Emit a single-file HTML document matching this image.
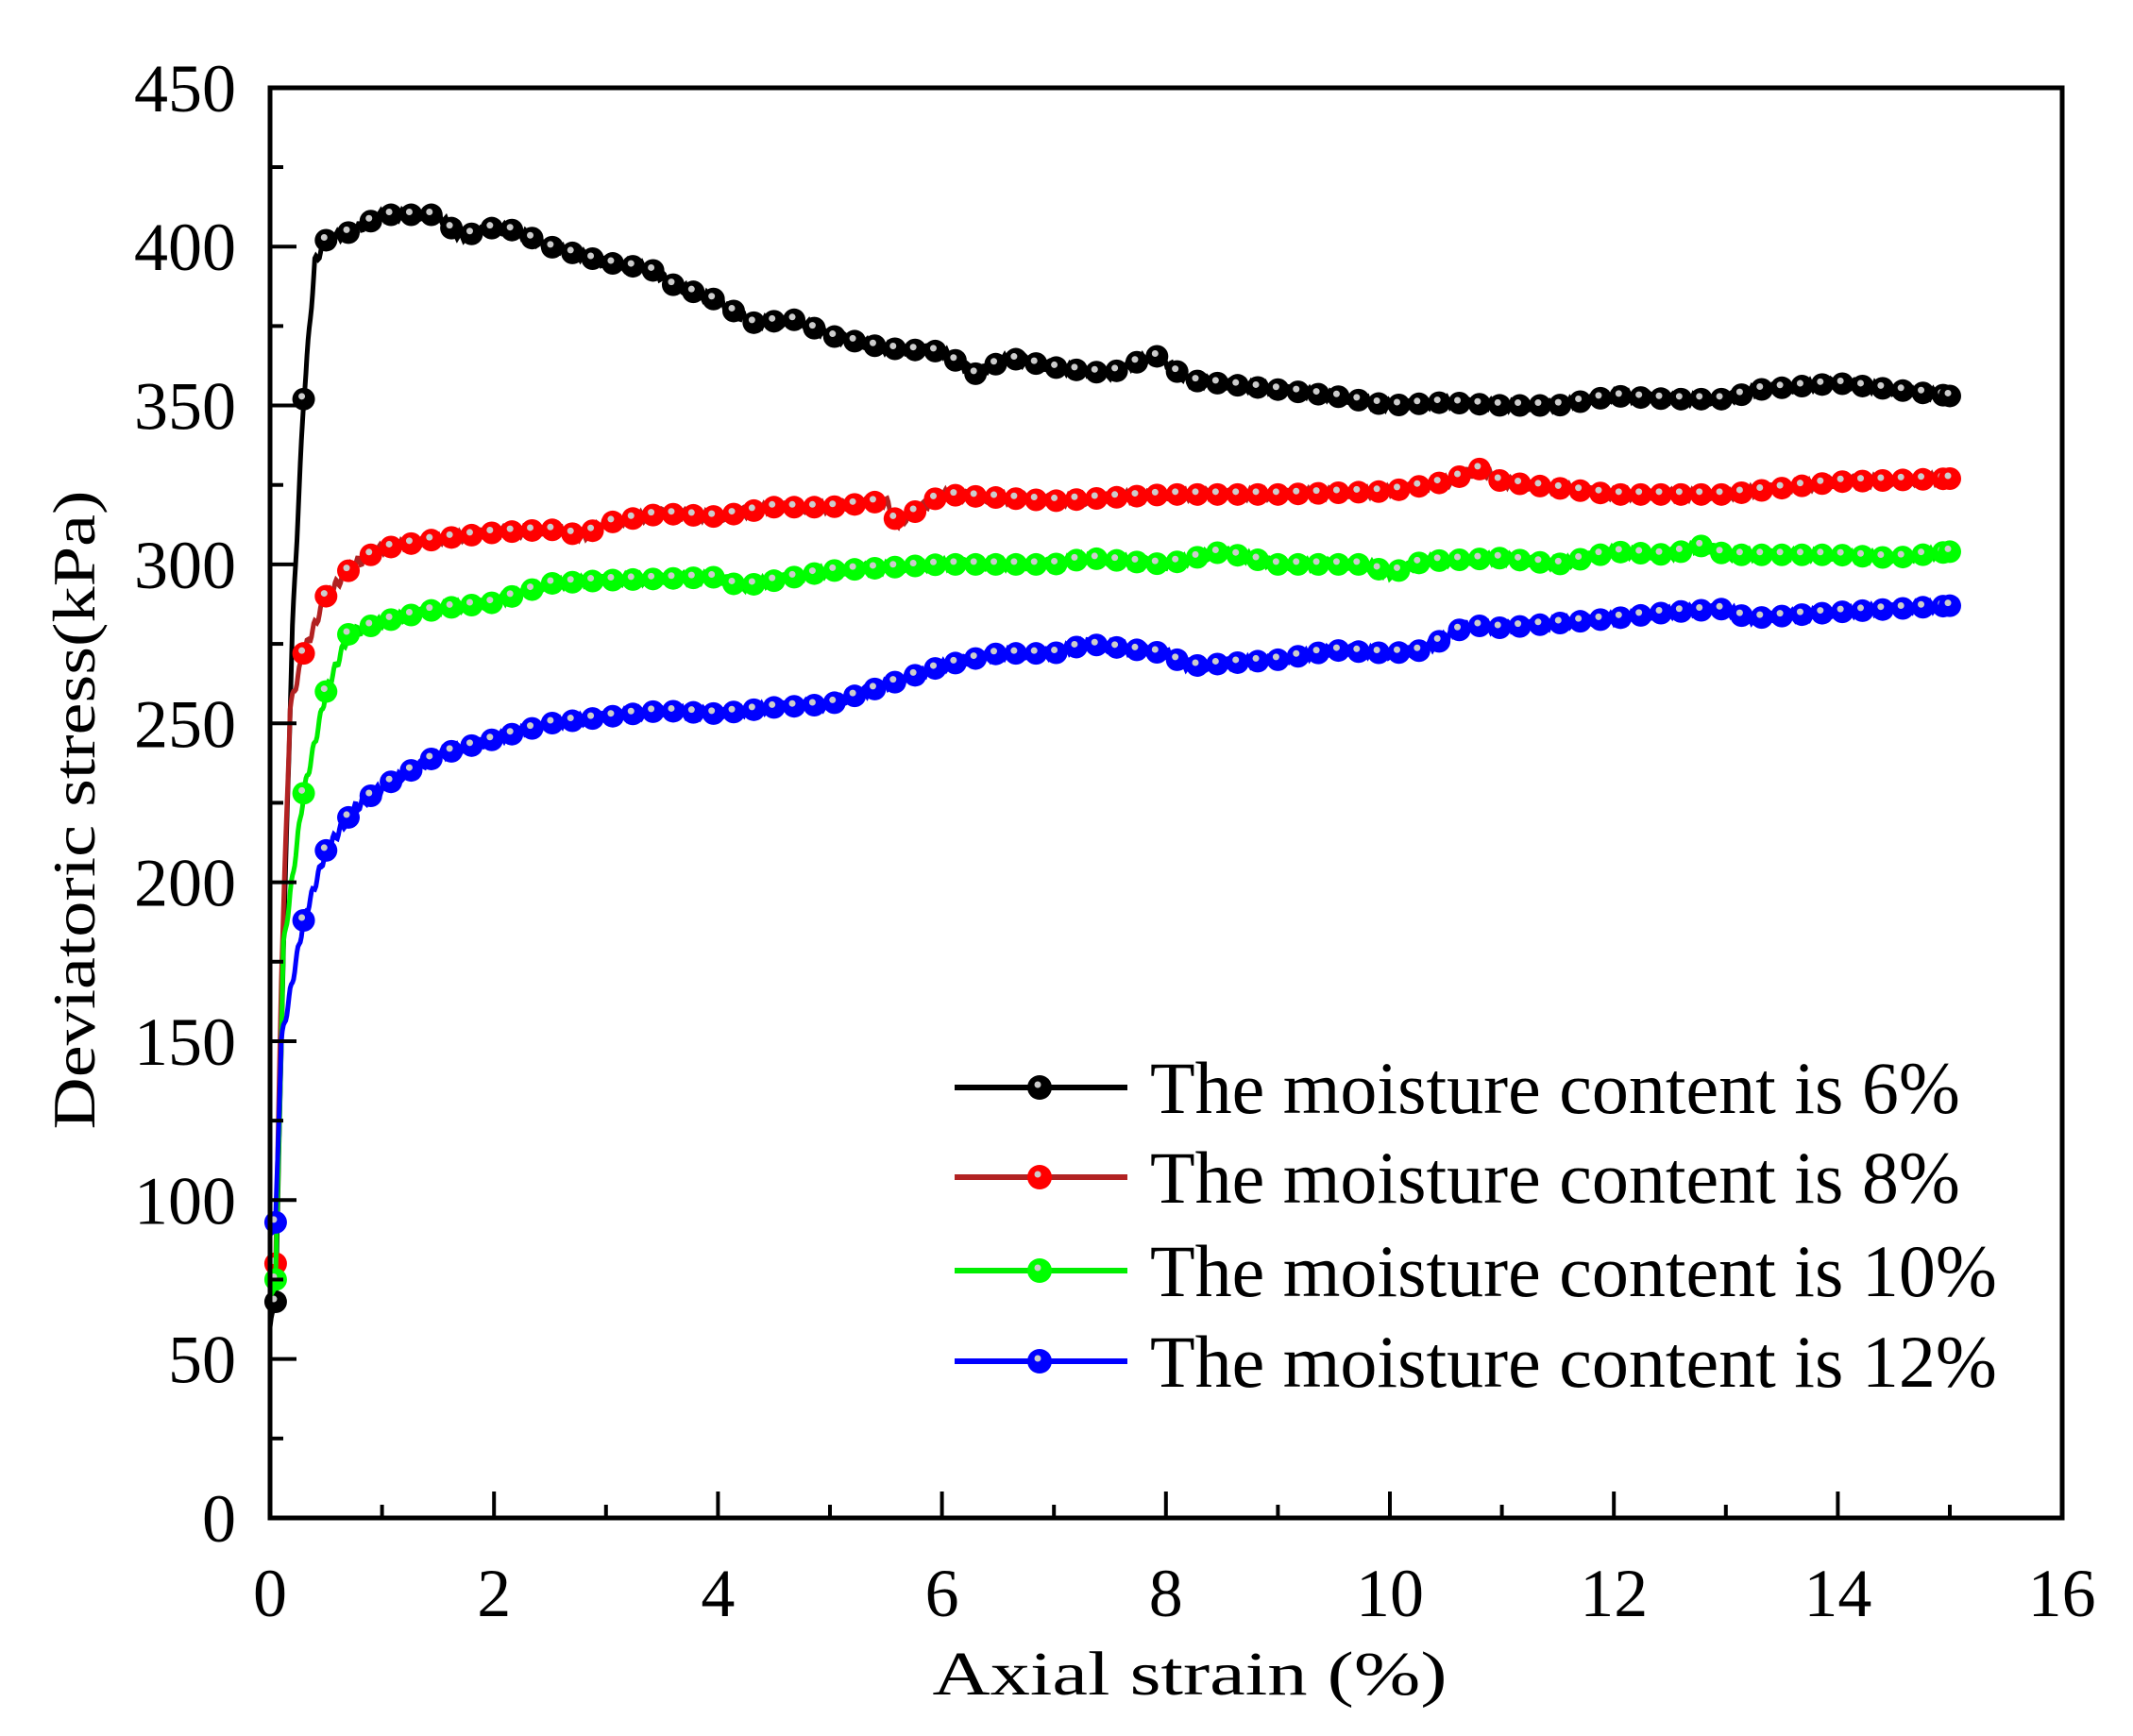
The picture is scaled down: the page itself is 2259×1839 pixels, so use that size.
<!DOCTYPE html>
<html><head><meta charset="utf-8"><style>
html,body{margin:0;padding:0;background:#fff;}
svg{display:block;}
text{font-family:"Liberation Serif",serif;fill:#000;}
</style></head><body>
<svg id="s" width="2259" height="1839" viewBox="0 0 2259 1839" xmlns="http://www.w3.org/2000/svg">
<rect width="2259" height="1839" fill="#fff"/>
<g id="plot"></g>
<rect x="286" y="93" width="1898" height="1515" fill="none" stroke="#000" stroke-width="5"/>
<g id="ticks" stroke="#000" stroke-width="4"></g>
<g id="labels" font-size="72"></g>
<text x="1260" y="1795" font-size="66" text-anchor="middle" textLength="545" lengthAdjust="spacingAndGlyphs">Axial strain (%)</text>
<text transform="translate(100,858) rotate(-90)" font-size="64" text-anchor="middle" textLength="677" lengthAdjust="spacingAndGlyphs">Deviatoric stress(kPa)</text>
<g id="legend"></g>
</svg>
<script>
var X=function(v){return 286+v*118.6;}, Y=function(v){return 1608-v*3.367;};
var NS="http://www.w3.org/2000/svg";
function el(p,t,a){var e=document.createElementNS(NS,t);for(var k in a)e.setAttribute(k,a[k]);p.appendChild(e);return e;}
var tk=document.getElementById('ticks'),lb=document.getElementById('labels');
for(var i=0;i<=16;i++){var x=X(i);el(tk,'line',{x1:x,y1:1608,x2:x,y2:i%2?1594:1580});
 if(i%2==0){var t=el(lb,'text',{x:x,y:1712,'text-anchor':'middle'});t.textContent=i;}}
for(var v=0;v<=450;v+=25){var y=Y(v);el(tk,'line',{x1:286,x2:v%50?300:314,y1:y,y2:y});
 if(v%50==0){var t=el(lb,'text',{x:250,y:y+25,'text-anchor':'end'});t.textContent=v;}}
var S=[
{c:'#000',lc:'#000',d:[[0,60],[0.05,68],[0.12,180],[0.2,280],[0.3,352],[0.4,395],[0.5,402],[0.75,405],[1,410],[1.5,410],[1.7,403],[2,406],[2.2,405],[2.5,400],[3,395],[3.4,393],[3.6,388],[4,383],[4.3,376],[4.7,377],[5,372],[5.5,368],[6,367],[6.3,360],[6.6,365],[7,362],[7.5,360],[7.9,366],[8.2,358],[9,355],[9.5,353],[10,350],[10.5,351],[11,350],[11.5,350],[12,353],[12.5,352],[13,352],[13.3,355],[14,357],[14.5,355],[15,353]]},
{c:'#ff0000',lc:'#b22222',d:[[0,75],[0.05,80],[0.1,170],[0.18,255],[0.3,272],[0.5,290],[0.75,300],[1,305],[1.5,308],[2,310],[2.5,311],[2.8,309],[3,313],[3.5,316],[4,315],[4.5,318],[5,318],[5.5,320],[5.6,313],[6,322],[7,320],[8,322],[9,322],[10,323],[10.5,326],[10.8,330],[11,326],[12,322],[12.5,322],[13,322],[13.5,324],[14,326],[15,327]]},
{c:'#00ff00',lc:'#00ee00',d:[[0,70],[0.05,75],[0.12,180],[0.3,228],[0.5,260],[0.7,278],[1,282],[1.5,286],[2,288],[2.5,294],[3,295],[4,296],[4.2,293],[5,298],[6,300],[7,300],[7.3,302],[8,300],[8.5,304],[9,300],[9.8,300],[10,297],[10.3,301],[11,302],[11.5,300],[12,304],[12.5,303],[12.8,306],[13,303],[14,303],[14.5,302],[15,304]]},
{c:'#0000ff',lc:'#0000ff',d:[[0,90],[0.05,93],[0.1,150],[0.3,188],[0.5,210],[0.75,223],[1,230],[1.5,240],[2,245],[2.5,250],[3,252],[3.5,254],[4,253],[4.5,255],[5,256],[5.5,262],[6,268],[6.5,272],[7,272],[7.3,275],[8,272],[8.2,268],[9,270],[9.5,273],[10,272],[10.3,273],[10.7,281],[11,280],[12,283],[12.5,285],[13,286],[13.2,283],[14,285],[15,287]]}];
function interp(d,x){if(x<=d[0][0])return d[0][1];for(var i=1;i<d.length;i++){if(x<=d[i][0]){var a=d[i-1],b=d[i];return a[1]+(b[1]-a[1])*(x-a[0])/(b[0]-a[0]);}}return d[d.length-1][1];}
var pg=document.getElementById('plot');
S.forEach(function(s,si){
 var pts=[];for(var x=0;x<=15;x+=0.01){var y=interp(s.d,x)+(Math.sin(x*97+si)*1.5);pts.push(X(x).toFixed(1)+','+Y(y).toFixed(1));}
 el(pg,'polyline',{points:pts.join(' '),fill:'none',stroke:s.lc,'stroke-width':5});
 var mx=[0.05,0.3,0.5,0.7];for(var x=0.9;x<=15.01;x+=0.18)mx.push(x);mx.push(15);
 mx.forEach(function(x){var y=interp(s.d,x);el(pg,'circle',{cx:X(x),cy:Y(y),r:12,fill:s.c});el(pg,'circle',{cx:X(x)-2,cy:Y(y)-3,r:3.5,fill:'#ccc'});});
});
var lg=document.getElementById('legend');
var names=['6%','8%','10%','12%'],ly=[1152,1247,1346,1442];
S.forEach(function(s,i){el(lg,'line',{x1:1011,x2:1194,y1:ly[i],y2:ly[i],stroke:s.lc,'stroke-width':6});
 el(lg,'circle',{cx:1101,cy:ly[i],r:13,fill:s.c});el(lg,'circle',{cx:1099,cy:ly[i]-3,r:3.5,fill:'#ccc'});
 var t=el(lg,'text',{x:1218,y:ly[i]+27,'font-size':78});t.textContent='The moisture content is '+names[i];});
</script>
</body></html>
